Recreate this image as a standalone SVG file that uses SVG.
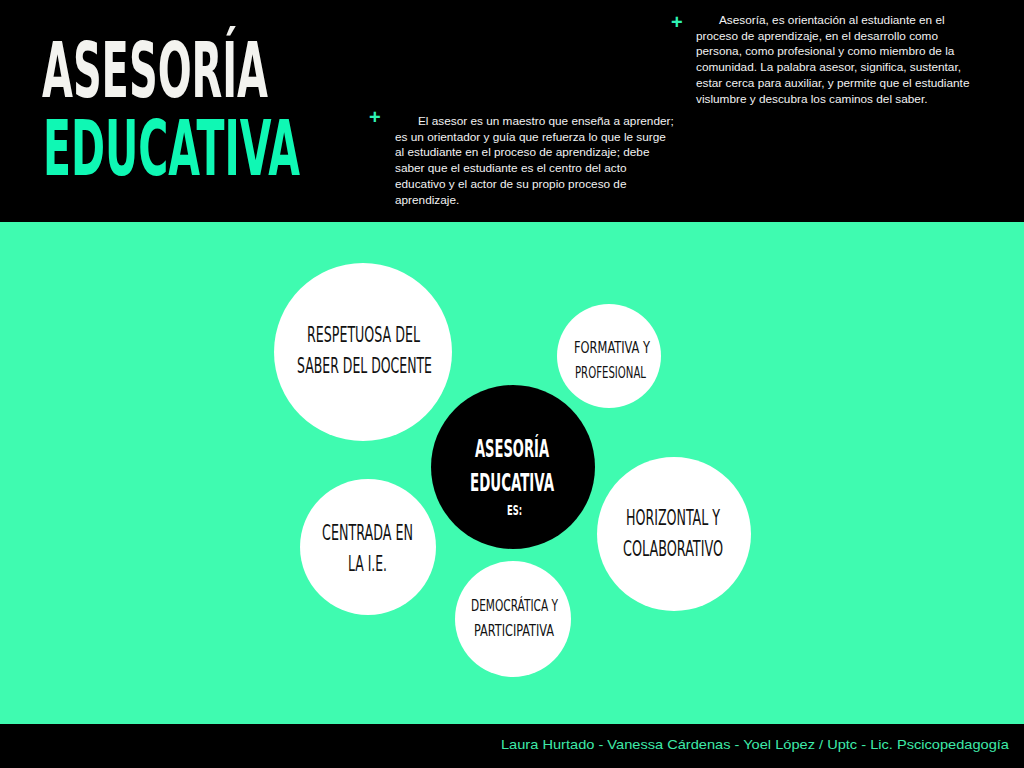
<svg xmlns="http://www.w3.org/2000/svg" width="1024" height="768" viewBox="0 0 1024 768">
<style>
.bb{font-family:"Liberation Sans Narrow","DejaVu Sans Condensed","Liberation Sans",sans-serif;}
.t{font-weight:bold;font-size:76px;}
.c{font-size:21px;fill:#111;}
.cs{font-size:16.5px;fill:#111;}
.w{fill:#ffffff;}
.p{font-family:"Liberation Sans",Arial,sans-serif;font-size:11.8px;fill:#f2f2f2;}
.plus{font-family:"Liberation Sans",Arial,sans-serif;font-size:20px;font-weight:bold;fill:#2ff3b4;}
</style>
<rect x="0" y="0" width="1024" height="222" fill="#000"/>
<rect x="0" y="222" width="1024" height="502" fill="#3ffbb0"/>
<rect x="0" y="724" width="1024" height="44" fill="#000"/>

<g id="title">
<text class="bb t" x="42" y="97" fill="#f3f3ef" textLength="226" lengthAdjust="spacingAndGlyphs">ASESORÍA</text>
<text class="bb t" x="43" y="175" fill="#0ff8b4" textLength="257" lengthAdjust="spacingAndGlyphs">EDUCATIVA</text>
</g>

<g id="note1">
<text class="plus" x="369" y="124">+</text>
<text class="p" x="418" y="125">El asesor es un maestro que enseña a aprender;</text>
<text class="p" x="395" y="140.7">es un orientador y guía que refuerza lo que le surge</text>
<text class="p" x="395" y="156.4">al estudiante en el proceso de aprendizaje; debe</text>
<text class="p" x="395" y="172.1">saber que el estudiante es el centro del acto</text>
<text class="p" x="395" y="187.8">educativo y el actor de su propio proceso de</text>
<text class="p" x="395" y="203.5">aprendizaje.</text>
</g>

<g id="note2">
<text class="plus" x="671" y="29">+</text>
<text class="p" x="719" y="24">Asesoría, es orientación al estudiante en el</text>
<text class="p" x="696" y="39.7">proceso de aprendizaje, en el desarrollo como</text>
<text class="p" x="696" y="55.4">persona, como profesional y como miembro de la</text>
<text class="p" x="696" y="71.1">comunidad. La palabra asesor, significa, sustentar,</text>
<text class="p" x="696" y="86.8">estar cerca para auxiliar, y permite que el estudiante</text>
<text class="p" x="696" y="102.5">vislumbre y descubra los caminos del saber.</text>
</g>

<g id="connectors"></g>

<g id="respetuosa">
<circle cx="363" cy="352" r="89" class="w"/>
<text class="bb c" x="307" y="342" textLength="113" lengthAdjust="spacingAndGlyphs">RESPETUOSA DEL</text>
<text class="bb c" x="297" y="373" textLength="135" lengthAdjust="spacingAndGlyphs">SABER DEL DOCENTE</text>
</g>

<g id="formativa">
<circle cx="609" cy="356" r="52" class="w"/>
<text class="bb cs" x="574" y="353" textLength="76" lengthAdjust="spacingAndGlyphs">FORMATIVA  Y</text>
<text class="bb cs" x="575" y="378" textLength="71" lengthAdjust="spacingAndGlyphs">PROFESIONAL</text>
</g>

<g id="centro">
<circle cx="513" cy="467" r="82" fill="#000"/>
<text class="bb" x="475" y="457" font-size="24" font-weight="bold" fill="#fff" textLength="74" lengthAdjust="spacingAndGlyphs">ASESORÍA</text>
<text class="bb" x="470" y="491" font-size="24" font-weight="bold" fill="#fff" textLength="84" lengthAdjust="spacingAndGlyphs">EDUCATIVA</text>
<text class="bb" x="507" y="515" font-size="14" font-weight="bold" fill="#fff" textLength="15" lengthAdjust="spacingAndGlyphs">ES:</text>
</g>

<g id="centrada">
<circle cx="368" cy="547" r="68" class="w"/>
<text class="bb c" x="322" y="540" textLength="91" lengthAdjust="spacingAndGlyphs">CENTRADA EN</text>
<text class="bb c" x="348" y="571" textLength="39" lengthAdjust="spacingAndGlyphs">LA I.E.</text>
</g>

<g id="horizontal">
<circle cx="674" cy="534" r="77" class="w"/>
<text class="bb c" x="626" y="525" textLength="94" lengthAdjust="spacingAndGlyphs">HORIZONTAL Y</text>
<text class="bb c" x="623" y="556" textLength="100" lengthAdjust="spacingAndGlyphs">COLABORATIVO</text>
</g>

<g id="democratica">
<circle cx="513" cy="619" r="58" class="w"/>
<text class="bb cs" x="471" y="611" textLength="87" lengthAdjust="spacingAndGlyphs">DEMOCRÁTICA Y</text>
<text class="bb cs" x="474" y="636" textLength="80" lengthAdjust="spacingAndGlyphs">PARTICIPATIVA</text>
</g>

<g id="footer">
<text x="501" y="749" font-family="Liberation Sans, Arial, sans-serif" font-size="13" fill="#3ee9a8" textLength="508" lengthAdjust="spacingAndGlyphs">Laura Hurtado - Vanessa Cárdenas - Yoel López / Uptc - Lic. Pscicopedagogía</text>
</g>
</svg>
